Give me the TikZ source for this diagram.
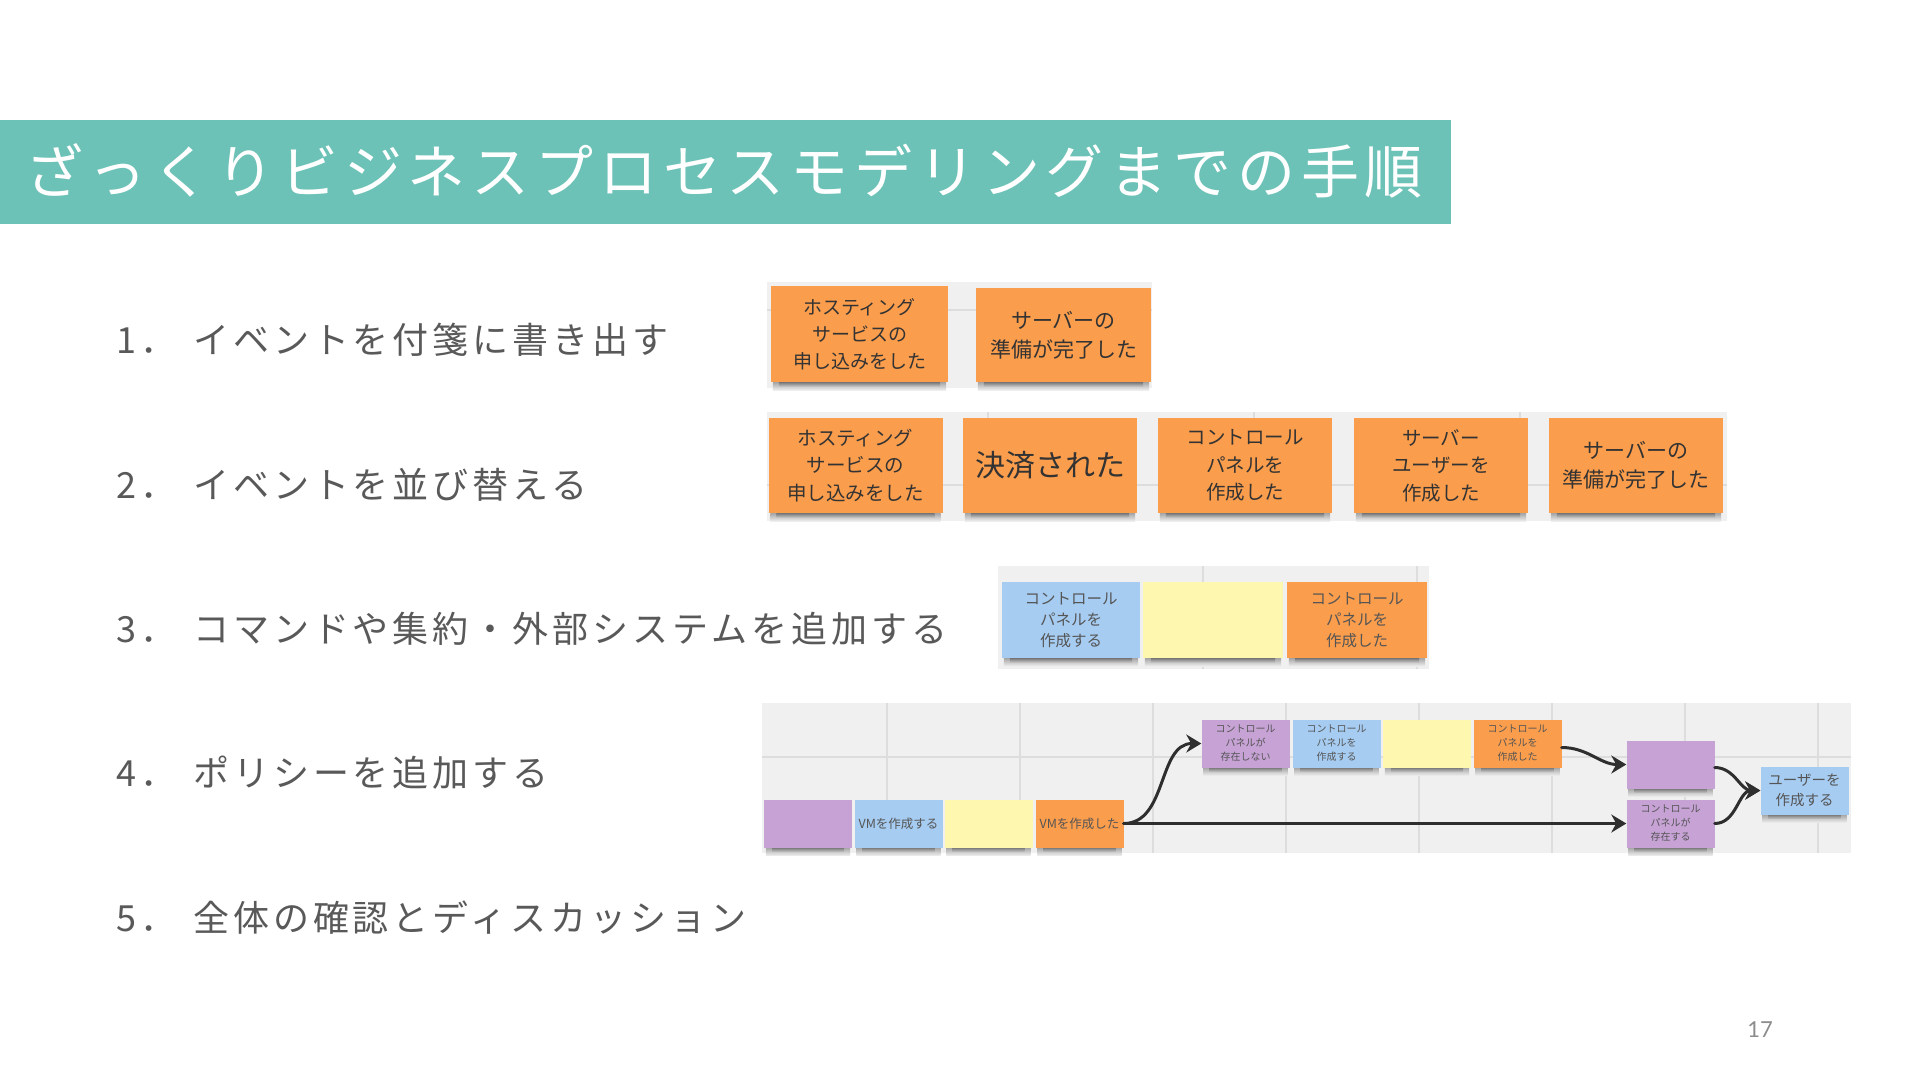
\documentclass[tikz,border=0pt]{standalone}
\usepackage{fontspec}
\setmainfont{Noto Sans CJK JP}
\newfontfamily\jp{Noto Sans CJK JP}
\newfontfamily\titlefont[LetterSpace=10]{Noto Sans CJK JP}
\newfontfamily\listfont[LetterSpace=11]{Noto Sans CJK JP}
\newfontfamily\numfont{Lato}
\usetikzlibrary{arrows.meta}
\definecolor{tealbar}{HTML}{6CC2B7}
\definecolor{listc}{HTML}{595959}
\definecolor{pagec}{HTML}{8C8C8C}
\definecolor{boardbg}{HTML}{F0F0F0}
\definecolor{gridc}{HTML}{DDDDDD}
\definecolor{sorange}{HTML}{FA9D4C}
\definecolor{sblue}{HTML}{A6CCF2}
\definecolor{syellow}{HTML}{FEF7B0}
\definecolor{spurple}{HTML}{C6A2D5}
\definecolor{sdark}{HTML}{333333}
\definecolor{sgray}{HTML}{555555}
\definecolor{arrowc}{HTML}{2E2E2E}
\pgfdeclarelayer{boardlayer}
\pgfdeclarelayer{shadowlayer}
\pgfsetlayers{boardlayer,shadowlayer,main}
\newcommand\stshadow[1]{%
  \begin{pgfonlayer}{shadowlayer}
  \shade[top color=black!35, bottom color=boardbg]
    ([xshift=2pt]#1.south west) rectangle ([xshift=-2pt,yshift=-8pt]#1.south east);
  \shade[top color=black!60, bottom color=black!25, opacity=0.7]
    ([xshift=8pt]#1.south west) rectangle ([xshift=-8pt,yshift=-4pt]#1.south east);
  \end{pgfonlayer}}
\tikzset{
  sticky/.style={draw=none, inner sep=0pt, align=center, text=sdark},
  listitem/.style={anchor=base west, inner sep=0pt, text=listc,
    font=\listfont\fontsize{36}{40}\selectfont},
  flow/.style={draw=arrowc, line width=3pt, line cap=round,
    -{Stealth[length=15pt,width=18pt]}},
  board/.style={fill=boardbg, draw=none},
  gridline/.style={draw=gridc, line width=1.3pt}
}
\begin{document}
\begin{tikzpicture}[x=1pt,y=-1pt]
\useasboundingbox (0,0) rectangle (1920,1080);
\begin{pgfonlayer}{boardlayer}
\fill[white] (0,0) rectangle (1920,1080);
\end{pgfonlayer}

% title bar
\fill[tealbar] (0,120) rectangle (1451,224);
\node[anchor=base west, inner sep=0pt, text=white,
  font=\titlefont\fontsize{58}{60}\selectfont] (title) at (25,193)
  {ざっくりビジネスプロセスモデリングまでの手順};

% list
\node[listitem] (s1) at (116,353.7) {1．\hspace{17pt}イベントを付箋に書き出す};
\node[listitem] (s2) at (116,498) {2．\hspace{17pt}イベントを並び替える};
\node[listitem] (s3) at (116,642) {3．\hspace{17pt}コマンドや集約・外部システムを追加する};
\node[listitem] (s4) at (116,786) {4．\hspace{17pt}ポリシーを追加する};
\node[listitem] (s5) at (116,931) {5．\hspace{17pt}全体の確認とディスカッション};

% page number
\node[text=pagec, font=\numfont\fontsize{22}{24}\selectfont, inner sep=0pt] (pg) at (1760,1030) {17};

% boards
\begin{pgfonlayer}{boardlayer}
\fill[board] (767,282) rectangle (1152,388);
\draw[gridline] (767,310) -- (1152,310);
\fill[board] (767,412) rectangle (1727,521);
\draw[gridline] (767,485) -- (1727,485);
\foreach \gx in {988,1254,1520} \draw[gridline] (\gx,412) -- (\gx,521);
\fill[board] (998,566) rectangle (1429,669);
\foreach \gx in {1203,1417} \draw[gridline] (\gx,566) -- (\gx,669);
\fill[board] (762,703) rectangle (1851,853);
\draw[gridline] (762,757) -- (1851,757);
\foreach \gx in {887,1020,1153,1286,1419,1552,1685,1818} \draw[gridline] (\gx,703) -- (\gx,853);
\end{pgfonlayer}

% row 1
\node[sticky, fill=sorange, minimum width=177, minimum height=96,
  font=\jp\fontsize{19}{27}\selectfont] (r1a) at (859.5,334)
  {ホスティング\\サービスの\\申し込みをした};
\node[sticky, fill=sorange, minimum width=175, minimum height=94,
  font=\jp\fontsize{21}{29}\selectfont] (r1b) at (1063.5,335)
  {サーバーの\\準備が完了した};

% row 2
\tikzset{rowtwo/.style={sticky, fill=sorange, minimum width=174, minimum height=95,
  font=\jp\fontsize{19.5}{27.5}\selectfont}}
\node[rowtwo] (r2a) at (855.5,465.5) {ホスティング\\サービスの\\申し込みをした};
\node[rowtwo, font=\jp\fontsize{30}{32}\selectfont] (r2b) at (1050,465.5) {決済された};
\node[rowtwo] (r2c) at (1245,465.5) {コントロール\\パネルを\\作成した};
\node[rowtwo] (r2d) at (1441,465.5) {サーバー\\ユーザーを\\作成した};
\node[rowtwo, font=\jp\fontsize{21}{29}\selectfont] (r2e) at (1636,465.5) {サーバーの\\準備が完了した};

% row 3
\tikzset{rowthree/.style={sticky, text=sgray, minimum height=76,
  font=\jp\fontsize{15.5}{21}\selectfont}}
\node[rowthree, fill=sblue, minimum width=138] (r3a) at (1071,620) {コントロール\\パネルを\\作成する};
\node[rowthree, fill=syellow, minimum width=140] (r3b) at (1213,620) {};
\node[rowthree, fill=sorange, minimum width=140] (r3c) at (1357,620) {コントロール\\パネルを\\作成した};

% row 4
\tikzset{small/.style={sticky, text=sgray, minimum width=88, minimum height=48,
  font=\jp\fontsize{10}{14}\selectfont}}
\node[small, fill=spurple] (p1) at (808,823.5) {};
\node[small, fill=sblue, font=\jp\fontsize{12.5}{14}\selectfont] (vmdo) at (898.5,823.5) {VMを作成する};
\node[small, fill=syellow] (y1) at (988.5,823.5) {};
\node[small, fill=sorange, font=\jp\fontsize{12.5}{14}\selectfont] (vmdone) at (1079.5,823.5) {VMを作成した};
\node[small, fill=spurple] (nexist) at (1245.5,743.5) {コントロール\\パネルが\\存在しない};
\node[small, fill=sblue] (cpdo) at (1336.5,743.5) {コントロール\\パネルを\\作成する};
\node[small, fill=syellow] (y2) at (1427,743.5) {};
\node[small, fill=sorange] (cpdone) at (1517.5,743.5) {コントロール\\パネルを\\作成した};
\node[small, fill=spurple] (pempty) at (1670.5,764.5) {};
\node[small, fill=spurple] (exist) at (1670.5,823.5) {コントロール\\パネルが\\存在する};
\node[small, fill=sblue, font=\jp\fontsize{14.5}{20}\selectfont] (user) at (1804.5,790.5) {ユーザーを\\作成する};

% shadows
\foreach \n in {r1a,r1b,r2a,r2b,r2c,r2d,r2e,r3a,r3b,r3c,p1,vmdo,y1,vmdone,nexist,cpdo,y2,cpdone,pempty,exist,user}
  {\stshadow{\n}}

% connectors
\draw[flow] (vmdone.east) to[out=0,in=180] (nexist.west);
\draw[flow] (vmdone.east) -- (exist.west);
\draw[flow] ([yshift=-4pt]cpdone.east) to[out=0,in=180] (pempty.west);
\draw[flow] ([yshift=-3pt]pempty.east) to[out=0,in=180] (user.west);
\draw[flow] (exist.east) to[out=0,in=180] (user.west);
\end{tikzpicture}
\end{document}
